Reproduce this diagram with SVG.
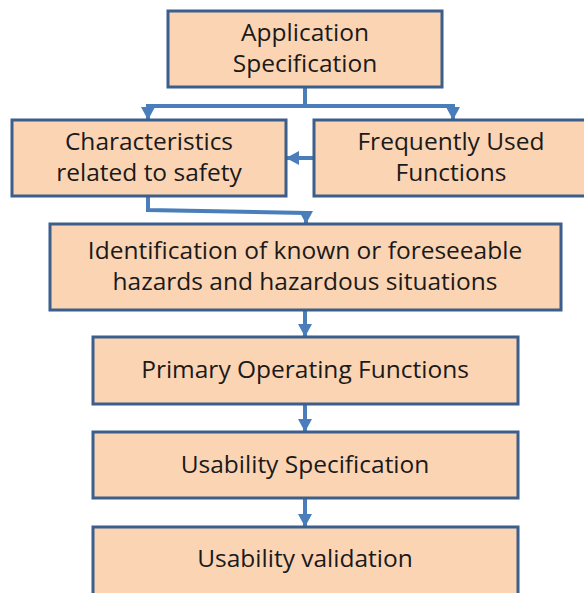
<svg xmlns="http://www.w3.org/2000/svg" width="584" height="593" viewBox="0 0 584 593">
<style>
.box{fill:#fbd4b4;stroke:#3b5e8c;stroke-width:3}
.t{font-family:"Open Sans","Liberation Sans",sans-serif;font-size:24.5px;fill:#1a1a1a;text-anchor:middle}
.c{fill:none;stroke:#4a7ebb;stroke-width:4}
</style>
<defs>
<marker id="ah" markerUnits="userSpaceOnUse" markerWidth="16" markerHeight="14" refX="12" refY="7" orient="auto">
<path d="M0,0 L13,7 L0,14 Z" fill="#4a7ebb"/>
</marker>
</defs>
<rect width="584" height="593" fill="#ffffff"/>
<g id="connectors">
<path class="c" d="M305,87 V106 H148 V119" marker-end="url(#ah)"/>
<path class="c" d="M305,106 H453 V119" marker-end="url(#ah)"/>
<path class="c" d="M314,158 H287" marker-end="url(#ah)"/>
<path class="c" d="M148,196 V210 L306,213 V223" marker-end="url(#ah)"/>
<path class="c" d="M305,310 V336" marker-end="url(#ah)"/>
<path class="c" d="M305,404 V431" marker-end="url(#ah)"/>
<path class="c" d="M305,498 V526" marker-end="url(#ah)"/>
</g>
<g id="app-spec">
<rect class="box" x="168" y="11" width="274" height="76"/>
<text class="t" x="305" y="41">Application</text>
<text class="t" x="305" y="72">Specification</text>
</g>
<g id="characteristics">
<rect class="box" x="12" y="120" width="274" height="76"/>
<text class="t" x="149" y="150">Characteristics</text>
<text class="t" x="149" y="181">related to safety</text>
</g>
<g id="frequent-functions">
<rect class="box" x="314" y="120" width="275" height="76"/>
<text class="t" x="451" y="150">Frequently Used</text>
<text class="t" x="451" y="181">Functions</text>
</g>
<g id="hazards">
<rect class="box" x="50" y="224" width="511" height="86"/>
<text class="t" x="305" y="259">Identification of known or foreseeable</text>
<text class="t" x="305" y="290">hazards and hazardous situations</text>
</g>
<g id="primary">
<rect class="box" x="93" y="337" width="425" height="67"/>
<text class="t" x="305" y="378">Primary Operating Functions</text>
</g>
<g id="usability-spec">
<rect class="box" x="93" y="432" width="425" height="66"/>
<text class="t" x="305" y="473">Usability Specification</text>
</g>
<g id="usability-validation">
<rect class="box" x="93" y="527" width="425" height="72"/>
<text class="t" x="305" y="567">Usability validation</text>
</g>
</svg>
